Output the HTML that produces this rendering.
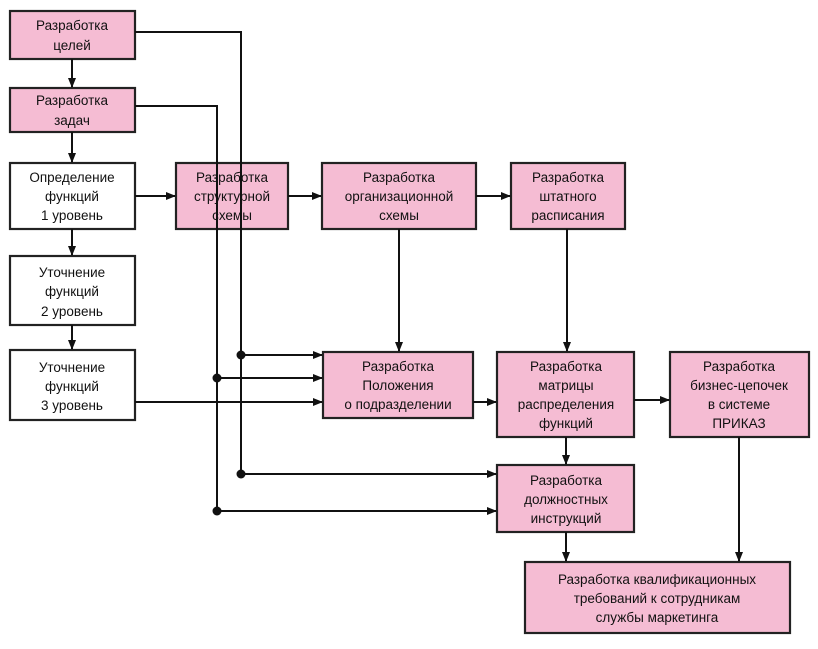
<!DOCTYPE html>
<html><head><meta charset="utf-8"><style>
body{margin:0;background:#fff;}
svg text{font-family:"Liberation Sans",sans-serif;font-size:13.5px;fill:#111;text-anchor:middle;}
</style></head><body>
<svg width="818" height="644" viewBox="0 0 818 644" xmlns="http://www.w3.org/2000/svg">
<defs><marker id="a" markerWidth="10" markerHeight="8" refX="9" refY="4" orient="auto" markerUnits="userSpaceOnUse"><path d="M0,0 L10,4 L0,8 Z" fill="#111"/></marker></defs>
<g stroke="#222" stroke-width="2.2">
<rect x="10" y="11" width="125" height="48" fill="#f5bcd3"/>
<rect x="10" y="88" width="125" height="44" fill="#f5bcd3"/>
<rect x="10" y="163" width="125" height="66" fill="#fff"/>
<rect x="10" y="256" width="125" height="69" fill="#fff"/>
<rect x="10" y="350" width="125" height="70" fill="#fff"/>
<rect x="176" y="163" width="112" height="66" fill="#f5bcd3"/>
<rect x="322" y="163" width="154" height="66" fill="#f5bcd3"/>
<rect x="511" y="163" width="114" height="66" fill="#f5bcd3"/>
<rect x="323" y="352" width="150" height="66" fill="#f5bcd3"/>
<rect x="497" y="352" width="137" height="85" fill="#f5bcd3"/>
<rect x="670" y="352" width="139" height="85" fill="#f5bcd3"/>
<rect x="497" y="465" width="137" height="67" fill="#f5bcd3"/>
<rect x="525" y="562" width="265" height="71" fill="#f5bcd3"/>
</g>
<g stroke="#111" stroke-width="2" fill="none">
<polyline points="135,32 241,32 241,474"/>
<polyline points="135,106 217,106 217,511"/>
<line x1="72" y1="59" x2="72" y2="87" marker-end="url(#a)"/>
<line x1="72" y1="132" x2="72" y2="162" marker-end="url(#a)"/>
<line x1="72" y1="229" x2="72" y2="255" marker-end="url(#a)"/>
<line x1="72" y1="325" x2="72" y2="349" marker-end="url(#a)"/>
<line x1="135" y1="196" x2="175" y2="196" marker-end="url(#a)"/>
<line x1="288" y1="196" x2="321" y2="196" marker-end="url(#a)"/>
<line x1="476" y1="196" x2="510" y2="196" marker-end="url(#a)"/>
<line x1="399" y1="229" x2="399" y2="351" marker-end="url(#a)"/>
<line x1="567" y1="229" x2="567" y2="351" marker-end="url(#a)"/>
<line x1="241" y1="355" x2="322" y2="355" marker-end="url(#a)"/>
<line x1="217" y1="378" x2="322" y2="378" marker-end="url(#a)"/>
<line x1="135" y1="402" x2="322" y2="402" marker-end="url(#a)"/>
<line x1="473" y1="402" x2="496" y2="402" marker-end="url(#a)"/>
<line x1="634" y1="400" x2="669" y2="400" marker-end="url(#a)"/>
<line x1="566" y1="437" x2="566" y2="464" marker-end="url(#a)"/>
<line x1="566" y1="532" x2="566" y2="561" marker-end="url(#a)"/>
<line x1="739" y1="437" x2="739" y2="561" marker-end="url(#a)"/>
<line x1="241" y1="474" x2="496" y2="474" marker-end="url(#a)"/>
<line x1="217" y1="511" x2="496" y2="511" marker-end="url(#a)"/>
</g>
<g fill="#111"><circle cx="241" cy="355" r="4.5"/><circle cx="217" cy="378" r="4.5"/><circle cx="241" cy="474" r="4.5"/><circle cx="217" cy="511" r="4.5"/></g>
<text x="72" y="30">Разработка</text><text x="72" y="50">целей</text>
<text x="72" y="105">Разработка</text><text x="72" y="125">задач</text>
<text x="72" y="182">Определение</text><text x="72" y="201">функций</text><text x="72" y="220">1 уровень</text>
<text x="72" y="277">Уточнение</text><text x="72" y="296">функций</text><text x="72" y="316">2 уровень</text>
<text x="72" y="372">Уточнение</text><text x="72" y="391">функций</text><text x="72" y="410">3 уровень</text>
<text x="232" y="182">Разработка</text><text x="232" y="201">структурной</text><text x="232" y="220">схемы</text>
<text x="399" y="182">Разработка</text><text x="399" y="201">организационной</text><text x="399" y="220">схемы</text>
<text x="568" y="182">Разработка</text><text x="568" y="201">штатного</text><text x="568" y="220">расписания</text>
<text x="398" y="371">Разработка</text><text x="398" y="390">Положения</text><text x="398" y="409">о подразделении</text>
<text x="566" y="371">Разработка</text><text x="566" y="390">матрицы</text><text x="566" y="409">распределения</text><text x="566" y="428">функций</text>
<text x="739" y="371">Разработка</text><text x="739" y="390">бизнес-цепочек</text><text x="739" y="409">в системе</text><text x="739" y="428">ПРИКАЗ</text>
<text x="566" y="485">Разработка</text><text x="566" y="504">должностных</text><text x="566" y="523">инструкций</text>
<text x="657" y="584">Разработка квалификационных</text><text x="657" y="603">требований к сотрудникам</text><text x="657" y="622">службы маркетинга</text>
</svg>
</body></html>
